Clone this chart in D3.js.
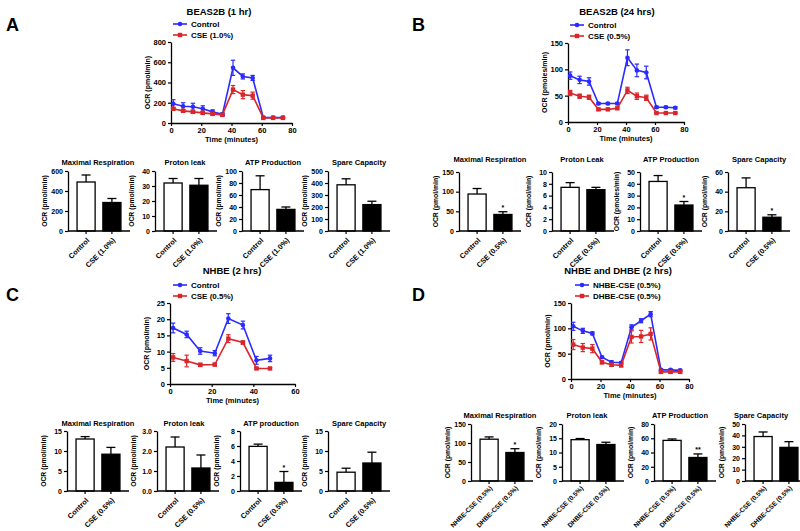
<!DOCTYPE html>
<html><head><meta charset="utf-8">
<script src="https://cdn.jsdelivr.net/npm/d3@7"></script>
<style>
body{margin:0;background:#fff;}
svg text{font-family:"Liberation Sans",Arial,sans-serif;font-weight:bold;fill:#000;}
</style></head>
<body><svg id="c" width="800" height="531"></svg>
<script>
// ---------------- DATA ----------------
const timeA = [1.5,8,14.5,21,27.5,34,41,47.5,54,61,67.5,74];
const ctrlA = [190,165,160,140,110,85,545,460,445,55,55,55];
const ctrlAErr = [40,35,35,30,20,15,75,25,25,10,10,10];
const cseA = [140,120,110,100,90,80,330,280,270,50,50,50];
const cseAErr = [15,15,15,15,15,10,40,40,35,5,5,5];

const timeB = [1.5,8,14.5,21,27.5,34,41,47.5,54,61,67.5,74];
const ctrlB = [88,80,77,35,35,35,122,98,94,28,28,27];
const ctrlBErr = [7,7,7,2,2,2,15,12,12,2,2,2];
const cseB = [55,49,47,24,24,26,60,49,46,17,17,17];
const cseBErr = [5,4,4,2,2,2,6,6,5,1,1,1];

const timeC = [1.5,8,14.5,21.5,28,35,41.5,48];
const ctrlC = [17.3,15.3,10.2,9.5,20.2,18.2,7.3,7.9];
const ctrlCErr = [1.5,1,1,0.8,1.5,1.2,1.2,1];
const cseC = [8.2,7.1,5.9,6.0,14,12.8,4.8,4.8];
const cseCErr = [1.2,1.8,0.5,0.4,1.2,0.5,0.3,0.3];

const timeD = [1.5,8,14.5,21,27.5,34,41,47.5,54,61,67.5,74];
const nhbeD = [104,95,90,43,33,32,102,115,128,18,18,17];
const nhbeDErr = [8,5,3,2,3,2,5,4,5,2,2,2];
const dhbeD = [68,62,60,33,28,27,83,84,89,14,14,14];
const dhbeDErr = [10,8,8,3,3,3,12,12,12,2,2,2];

const barTitlesA = ["Maximal Respiration","Proton leak","ATP Production","Spare Capacity"];
const barTitlesB = ["Maximal Respiration","Proton Leak","ATP Production","Spare Capacity"];
const barTitlesC = ["Maximal Respiration","Proton leak","ATP production","Spare Capacity"];
const barTitlesD = ["Maximal Respiration","Proton leak","ATP Production","Spare Capacity"];

const groupsA = ["Control","CSE (1.0%)"];
const groupsBC = ["Control","CSE (0.5%)"];
const groupsD = ["NHBE-CSE (0.5%)","DHBE-CSE (0.5%)"];

const barValsA = [[490,285],[32,30.5],[69,36],[385,220]];
const barErrA  = [[70,40],[3,4.5],[23,4],[50,28]];
const barTicksA = [[0,200,400,600],[0,10,20,30,40],[0,20,40,60,80,100],[0,100,200,300,400,500]];
const starsA = [["",""],["",""],["",""],["",""]];

const barValsB = [[94,42],[7.4,7.0],[42,22],[44,14]];
const barErrB  = [[14,7],[0.8,0.4],[5,3],[10,2.5]];
const barTicksB = [[0,50,100,150],[0,2,4,6,8,10],[0,10,20,30,40,50],[0,20,40,60]];
const starsB = [["","*"],["",""],["","*"],["","*"]];

const barValsC = [[13,9.2],[2.2,1.15],[5.95,1.15],[4.7,7.0]];
const barErrC  = [[0.6,1.7],[0.5,0.65],[0.3,1.45],[1.0,2.7]];
const barTicksC = [[0,5,10,15],[0,1,2,3],[0,2,4,6,8],[0,5,10,15]];
const starsC = [["",""],["",""],["","*"],["",""]];

const barValsD = [[110,75],[14.5,12.8],[57,33],[39,29.5]];
const barErrD  = [[6,10],[0.4,0.8],[2,5],[4,5]];
const barTicksD = [[0,50,100,150],[0,5,10,15,20],[0,20,40,60,80],[0,10,20,30,40,50]];
const starsD = [["","*"],["",""],["","**"],["",""]];

const yLabelsB = ["OCR (pmol/min)","OCR (pmol/min)","OCR (pmoles/min)","OCR (pmol/min)"];

// ---------------- DRAW ----------------
const svg = d3.select("#c");
const BLUE = "#2b2bff", RED = "#d9262b";

function styleAxis(g, fs){
  g.select(".domain").attr("stroke","#000").attr("stroke-width",1.3);
  g.selectAll(".tick line").attr("stroke","#000").attr("stroke-width",1.2);
  g.selectAll(".tick text").attr("font-size",fs).attr("font-family","Liberation Sans, Arial, sans-serif").attr("font-weight","bold").attr("fill","#000");
}

function drawLine(cfg){
  const g = svg.append("g");
  const x = d3.scaleLinear().domain([0,cfg.xmax]).range([cfg.x0,cfg.x1]);
  const y = d3.scaleLinear().domain([0,cfg.ymax]).range([cfg.yb,cfg.yt]);
  const ax = g.append("g").attr("transform",`translate(0,${cfg.yb})`)
    .call(d3.axisBottom(x).tickValues(cfg.xticks).tickSize(3).tickPadding(1.5).tickSizeOuter(0));
  styleAxis(ax,7.5);
  const ay = g.append("g").attr("transform",`translate(${cfg.x0},0)`)
    .call(d3.axisLeft(y).tickValues(cfg.yticks).tickSize(3).tickPadding(2).tickSizeOuter(0));
  styleAxis(ay,7.5);
  g.append("text").attr("x",cfg.titleX).attr("y",cfg.titleY).attr("text-anchor","middle")
    .attr("font-size",9.5).text(cfg.title);
  g.append("text").attr("transform",`translate(${cfg.x0-21},${(cfg.yt+cfg.yb)/2}) rotate(-90)`)
    .attr("text-anchor","middle").attr("font-size",7).text(cfg.ylabel);
  g.append("text").attr("x",(cfg.x0+cfg.x1)/2).attr("y",cfg.yb+19).attr("text-anchor","middle")
    .attr("font-size",7.5).text("Time (minutes)");
  cfg.series.forEach((s,si)=>{
    const pts = s.t.map((t,i)=>({t, v:s.v[i], e:s.e[i]}));
    const line = d3.line().x(d=>x(d.t)).y(d=>y(d.v));
    const sg = g.append("g");
    sg.append("path").datum(pts).attr("d",line).attr("fill","none").attr("stroke",s.color).attr("stroke-width",1.6);
    sg.selectAll("g.eb").data(pts).join("g").each(function(d){
      const e = d3.select(this);
      e.append("line").attr("x1",x(d.t)).attr("x2",x(d.t)).attr("y1",y(d.v-d.e)).attr("y2",y(d.v+d.e)).attr("stroke",s.color).attr("stroke-width",1.2);
      [d.v-d.e,d.v+d.e].forEach(v=>e.append("line").attr("x1",x(d.t)-2.2).attr("x2",x(d.t)+2.2).attr("y1",y(v)).attr("y2",y(v)).attr("stroke",s.color).attr("stroke-width",1.2));
    });
    if(s.shape==="circle"){
      sg.selectAll("circle").data(pts).join("circle").attr("cx",d=>x(d.t)).attr("cy",d=>y(d.v)).attr("r",2.3).attr("fill",s.color);
    } else {
      sg.selectAll("rect").data(pts).join("rect").attr("x",d=>x(d.t)-2.2).attr("y",d=>y(d.v)-2.2).attr("width",4.4).attr("height",4.4).attr("fill",s.color);
    }
    const ly = cfg.legY + si*11;
    const lg = g.append("g");
    lg.append("line").attr("x1",cfg.legX).attr("x2",cfg.legX+14).attr("y1",ly).attr("y2",ly).attr("stroke",s.color).attr("stroke-width",1.6);
    if(s.shape==="circle") lg.append("circle").attr("cx",cfg.legX+7).attr("cy",ly).attr("r",2.3).attr("fill",s.color);
    else lg.append("rect").attr("x",cfg.legX+4.8).attr("y",ly-2.2).attr("width",4.4).attr("height",4.4).attr("fill",s.color);
    lg.append("text").attr("x",cfg.legX+18).attr("y",ly+2.7).attr("font-size",8).text(s.name);
  });
}

function drawBars(cfg){
  cfg.axX.forEach((ax0,i)=>{
    const g = svg.append("g");
    const x = d3.scaleBand().domain(cfg.groups).range([ax0, ax0+62]).paddingInner(0.3).paddingOuter(0.35);
    const ticks = cfg.ticks[i];
    const y = d3.scaleLinear().domain([0,ticks[ticks.length-1]]).range([cfg.yb,cfg.yt]);
    const vals = cfg.vals[i], errs = cfg.errs[i];
    cfg.groups.forEach((gr,j)=>{
      const bx = x(gr), bw = x.bandwidth(), cx = bx+bw/2;
      const top = y(vals[j]+errs[j]);
      g.append("line").attr("x1",cx).attr("x2",cx).attr("y1",y(vals[j])).attr("y2",top).attr("stroke","#000").attr("stroke-width",1.3);
      g.append("line").attr("x1",cx-4.5).attr("x2",cx+4.5).attr("y1",top).attr("y2",top).attr("stroke","#000").attr("stroke-width",1.3);
      g.append("rect").attr("x",bx).attr("y",y(vals[j])).attr("width",bw).attr("height",cfg.yb-y(vals[j]))
        .attr("fill", j===0?"#fff":"#000").attr("stroke","#000").attr("stroke-width",1.3);
      if(cfg.stars[i][j]) g.append("text").attr("x",cx).attr("y",top-2).attr("text-anchor","middle").attr("font-size",7).text(cfg.stars[i][j]);
    });
    const axb = g.append("g").attr("transform",`translate(0,${cfg.yb})`)
      .call(d3.axisBottom(x).tickSize(3).tickSizeOuter(0).tickFormat(""));
    styleAxis(axb,7);
    axb.select(".domain").attr("d",`M${ax0},0H${ax0+62}`);
    cfg.groups.forEach(gr=>{
      g.append("text").attr("transform",`translate(${x(gr)+x.bandwidth()/2+2},${cfg.yb+cfg.labOff}) rotate(-45)`)
        .attr("text-anchor","end").attr("dy","0.35em").attr("font-size",cfg.labFs).text(gr);
    });
    const ay = g.append("g").attr("transform",`translate(${ax0},0)`)
      .call(d3.axisLeft(y).tickValues(ticks).tickSize(3).tickPadding(2).tickSizeOuter(0));
    styleAxis(ay,7);
    g.append("text").attr("x",ax0+cfg.titleDx[i]).attr("y",cfg.titleY).attr("text-anchor","middle").attr("font-size",7.5).text(cfg.titles[i]);
    g.append("text").attr("transform",`translate(${ax0-21},${(cfg.yt+cfg.yb)/2}) rotate(-90)`)
      .attr("text-anchor","middle").attr("font-size",6.8).text(cfg.ylabels[i]);
  });
}

// Panel letters
[["A",6,31],["B",412,31],["C",6,301],["D",412,301]].forEach(([t,x,y])=>{
  svg.append("text").attr("x",x).attr("y",y).attr("font-size",18).text(t);
});

drawLine({x0:171,x1:292,yt:42,yb:123,xmax:80,ymax:800,xticks:[0,20,40,60,80],yticks:[0,200,400,600,800],
  title:"BEAS2B (1 hr)",titleX:219,titleY:15,ylabel:"OCR (pmol/min)",legX:173,legY:24,
  series:[{name:"Control",t:timeA,v:ctrlA,e:ctrlAErr,color:BLUE,shape:"circle"},
          {name:"CSE (1.0%)",t:timeA,v:cseA,e:cseAErr,color:RED,shape:"square"}]});
drawLine({x0:568,x1:684,yt:43,yb:122,xmax:80,ymax:150,xticks:[0,20,40,60,80],yticks:[0,50,100,150],
  title:"BEAS2B (24 hrs)",titleX:617,titleY:15,ylabel:"OCR (pmoles/min)",legX:570,legY:25,
  series:[{name:"Control",t:timeB,v:ctrlB,e:ctrlBErr,color:BLUE,shape:"circle"},
          {name:"CSE (0.5%)",t:timeB,v:cseB,e:cseBErr,color:RED,shape:"square"}]});
drawLine({x0:170,x1:295,yt:303,yb:384,xmax:60,ymax:25,xticks:[0,20,40,60],yticks:[0,5,10,15,20,25],
  title:"NHBE (2 hrs)",titleX:232,titleY:274,ylabel:"OCR (pmol/min)",legX:173,legY:285,
  series:[{name:"Control",t:timeC,v:ctrlC,e:ctrlCErr,color:BLUE,shape:"circle"},
          {name:"CSE (0.5%)",t:timeC,v:cseC,e:cseCErr,color:RED,shape:"square"}]});
drawLine({x0:571,x1:689,yt:303,yb:379,xmax:80,ymax:150,xticks:[0,20,40,60,80],yticks:[0,50,100,150],
  title:"NHBE and DHBE (2 hrs)",titleX:618,titleY:274,ylabel:"OCR (pmol/min)",legX:575,legY:285,
  series:[{name:"NHBE-CSE (0.5%)",t:timeD,v:nhbeD,e:nhbeDErr,color:BLUE,shape:"circle"},
          {name:"DHBE-CSE (0.5%)",t:timeD,v:dhbeD,e:dhbeDErr,color:RED,shape:"square"}]});

const ocr4 = ["OCR (pmol/min)","OCR (pmol/min)","OCR (pmol/min)","OCR (pmol/min)"];
drawBars({axX:[68,155,242,328],yt:171,yb:231,titleY:165,titleDx:[30,30,31,31],labOff:8,labFs:7.3,groups:groupsA,vals:barValsA,errs:barErrA,ticks:barTicksA,
  stars:starsA,titles:barTitlesA,ylabels:ocr4});
drawBars({axX:[459,552,640,728],yt:172,yb:231,titleY:162,titleDx:[31,30,31,31],labOff:8,labFs:7.3,groups:groupsBC,vals:barValsB,errs:barErrB,ticks:barTicksB,
  stars:starsB,titles:barTitlesB,ylabels:yLabelsB});
drawBars({axX:[67,157,240,328],yt:431,yb:491,titleY:426,titleDx:[31,27,31,31],labOff:8,labFs:7.3,groups:groupsBC,vals:barValsC,errs:barErrC,ticks:barTicksC,
  stars:starsC,titles:barTitlesC,ylabels:ocr4});
drawBars({axX:[471,562,654,745],yt:424,yb:481,titleY:418,titleDx:[29,25,26,16],labOff:6,labFs:6.6,groups:groupsD,vals:barValsD,errs:barErrD,ticks:barTicksD,
  stars:starsD,titles:barTitlesD,ylabels:ocr4});
</script></body></html>
